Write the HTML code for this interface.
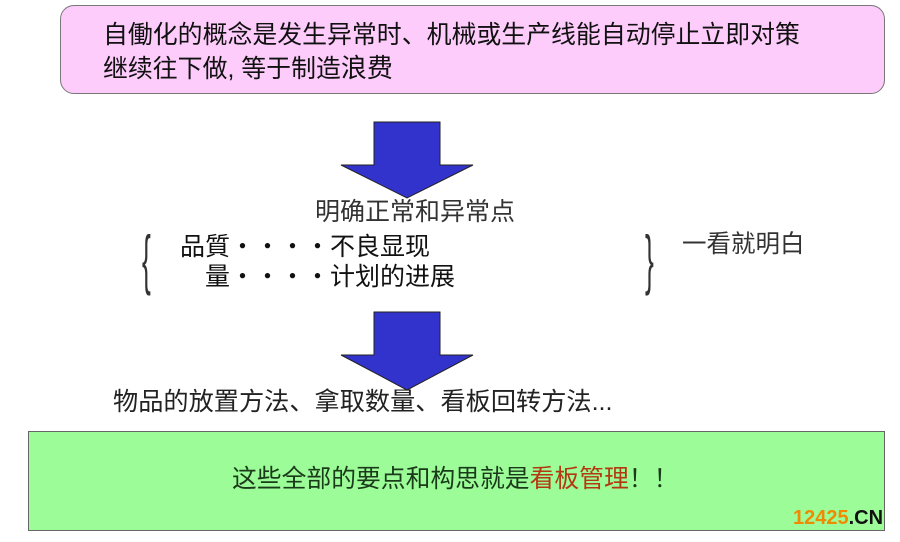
<!DOCTYPE html>
<html><head><meta charset="utf-8"><style>
body{margin:0;width:900px;height:542px;background:#fff;position:relative;overflow:hidden;font-family:"Liberation Sans","Noto Sans CJK SC",sans-serif;color:#111}
.a{position:absolute;white-space:nowrap;line-height:1}
</style></head><body>
<div class="a" style="left:60px;top:5px;width:823px;height:87px;background:#fdccfb;border:1.5px solid #777;border-radius:14px"></div>
<div class="a" style="left:103px;top:23px;font-size:24.9px">自働化的概念是发生异常时、机械或生产线能自动停止立即对策</div>
<div class="a" style="left:103px;top:55px;font-size:24.9px">继续往下做, 等于制造<span style="font-size:26px">浪费</span></div>
<svg class="a" style="left:0;top:0" width="900" height="542">
<polygon points="374,122 440,122 440,165 473,165 407,198 341,165 374,165" fill="#3232cc" stroke="#222" stroke-width="1"/>
<polygon points="374,312 440,312 440,355 473,355 407,390 341,355 374,355" fill="#3232cc" stroke="#222" stroke-width="1"/>
</svg>
<div class="a" style="left:315px;top:200px;font-size:25px;color:#333">明确正常和异常点</div>
<div class="a" style="left:142px;top:226px;font-size:66px;font-weight:100;transform:scaleX(0.4);transform-origin:left;color:#333">{</div>
<div class="a" style="left:645px;top:226px;font-size:66px;font-weight:100;transform:scaleX(0.4);transform-origin:left;color:#333">}</div>
<div class="a" style="left:180px;top:235px;font-size:25px">品質・・・・不良显现</div>
<div class="a" style="left:205px;top:265px;font-size:25px">量・・・・计划的进展</div>
<div class="a" style="left:682px;top:233px;font-size:24.5px;color:#333">一看就明白</div>
<div class="a" style="left:113px;top:390px;font-size:25.2px;color:#222">物品的放置方法、拿取数量、看板回转方法...</div>
<div class="a" style="left:28px;top:431px;width:855px;height:98px;background:#9cfc98;border:1.5px solid #666"></div>
<div class="a" style="left:232px;top:468px;font-size:24.8px;color:#1a3a1a">这些全部的要点和构思就是<span style="color:#b33a10">看板管理</span>！！</div>
<div class="a" style="left:793px;top:508px;font-size:20px;font-weight:bold;color:#f08a00">12425<span style="color:#111">.CN</span></div>
</body></html>
